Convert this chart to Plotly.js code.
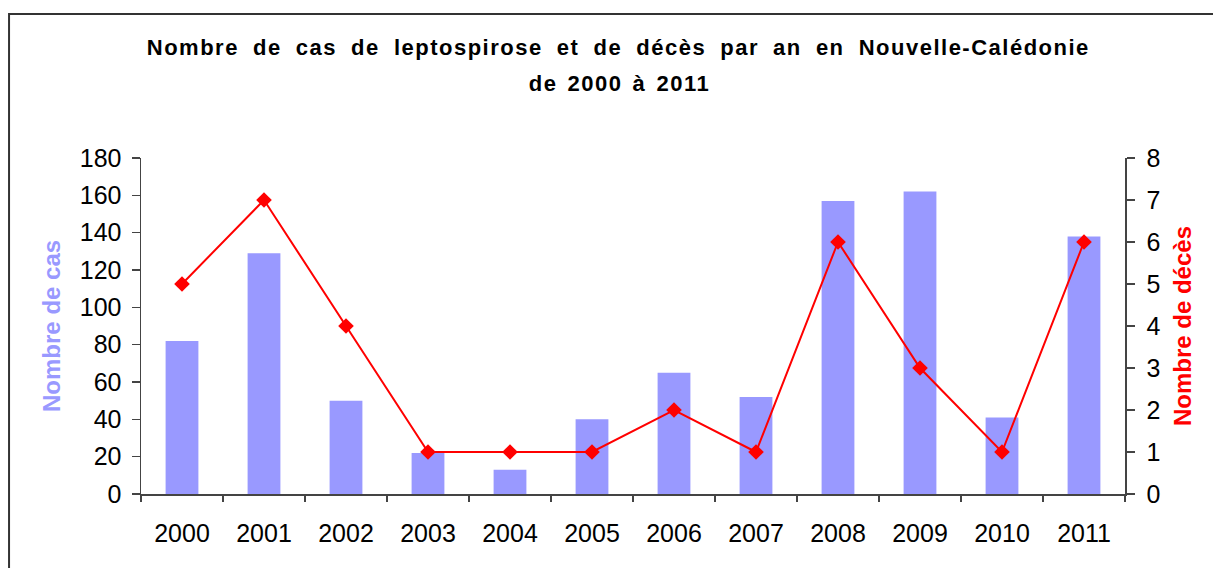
<!DOCTYPE html>
<html>
<head>
<meta charset="utf-8">
<script src="https://cdn.plot.ly/plotly-3.0.1.min.js"></script>
<style>
html,body{margin:0;padding:0;background:#fff;}
#chart{width:1213px;height:568px;}
#chart g.annotation[data-index="0"] text{letter-spacing:1.5px;word-spacing:6.5px;}
#chart g.annotation[data-index="1"] text{letter-spacing:1.5px;word-spacing:2.5px;}
</style>
</head>
<body>
<div id="chart"></div>
<script>
const years = ["2000","2001","2002","2003","2004","2005","2006","2007","2008","2009","2010","2011"];
const cases = [82, 129, 50, 22, 13, 40, 65, 52, 157, 162, 41, 138];
const deaths = [5, 7, 4, 1, 1, 1, 2, 1, 6, 3, 1, 6];
const titleLine1 = "Nombre de cas de leptospirose et de décès par an en Nouvelle-Calédonie";
const titleLine2 = "de 2000 à 2011";
const leftTitle = "Nombre de cas";
const rightTitle = "Nombre de décès";

const FONT = "Liberation Sans, Arial, sans-serif";
const AXC = "#444";
const xRange = [-0.5, years.length - 0.5];
const boundaries = years.map((_, i) => i - 0.5).concat([years.length - 0.5]);

const traces = [
  {type: "bar", x: years, y: cases, marker: {color: "#9999FF"}, xaxis: "x", yaxis: "y", hoverinfo: "y"},
  {type: "scatter", mode: "lines+markers", x: years, y: deaths, xaxis: "x", yaxis: "y2",
   line: {color: "#FF0000", width: 2}, marker: {symbol: "diamond", size: 12, color: "#FF0000"}}
];

const tickFont = {family: FONT, size: 25, color: "#000"};

const layout = {
  width: 1213, height: 568,
  margin: {l: 141, r: 88, t: 158, b: 74, pad: 0},
  paper_bgcolor: "#fff", plot_bgcolor: "#fff",
  showlegend: false,
  bargap: 0.6,
  xaxis: {type: "category", range: xRange, tickson: "boundaries", ticks: "outside", ticklen: 6, tickcolor: AXC, tickwidth: 1.5,
          showline: true, linecolor: AXC, linewidth: 1.5, showgrid: false, zeroline: false,
          tickfont: tickFont, ticklabelstandoff: 16, fixedrange: true},
  xaxis2: {overlaying: "x", anchor: "y", range: xRange, tickmode: "array", tickvals: boundaries,
           ticks: "inside", ticklen: 7, tickcolor: AXC, tickwidth: 1.5, showticklabels: false,
           showline: false, showgrid: false, zeroline: false},
  yaxis: {range: [0, 180], dtick: 20, ticks: "outside", ticklen: 8, tickcolor: AXC, tickwidth: 1.5,
          showline: true, linecolor: AXC, linewidth: 1.5, showgrid: false, zeroline: false,
          tickfont: tickFont, ticklabelstandoff: 5},
  yaxis3: {overlaying: "y", anchor: "x", side: "left", range: [0, 180], dtick: 20, ticks: "inside", ticklen: 8,
           tickcolor: AXC, tickwidth: 1.5, showticklabels: false, showline: false, showgrid: false, zeroline: false},
  yaxis2: {overlaying: "y", anchor: "x", side: "right", range: [0, 8], dtick: 1, ticks: "outside", ticklen: 8,
           tickcolor: AXC, tickwidth: 1.5, showline: true, linecolor: AXC, linewidth: 1.5, showgrid: false,
           zeroline: false, tickfont: tickFont, ticklabelstandoff: 7},
  yaxis4: {overlaying: "y", anchor: "x", side: "right", range: [0, 8], dtick: 1, ticks: "inside", ticklen: 8,
           tickcolor: AXC, tickwidth: 1.5, showticklabels: false, showline: false, showgrid: false, zeroline: false},
  annotations: [
    {text: "<b>" + titleLine1 + "</b>", xref: "paper", yref: "paper", x: (618.5 - 141) / 984, y: 1.3274,
     xanchor: "center", yanchor: "middle", showarrow: false, font: {family: FONT, size: 22, color: "#000"}},
    {text: "<b>" + titleLine2 + "</b>", xref: "paper", yref: "paper", x: (619 - 141) / 984, y: 1.2232,
     xanchor: "center", yanchor: "middle", showarrow: false, font: {family: FONT, size: 22, color: "#000"}},
    {text: "<b>" + leftTitle + "</b>", xref: "paper", yref: "paper", x: -0.0915, y: 0.5, textangle: -90,
     xanchor: "center", yanchor: "middle", showarrow: false, font: {family: FONT, size: 24, color: "#9999FF"}},
    {text: "<b>" + rightTitle + "</b>", xref: "paper", yref: "paper", x: 1.058, y: 0.5, textangle: -90,
     xanchor: "center", yanchor: "middle", showarrow: false, font: {family: FONT, size: 24, color: "#FF0000"}}
  ],
  shapes: [
    {type: "rect", xref: "paper", yref: "paper", x0: -0.1341, x1: 1.1, y0: -0.25, y1: 1.4286,
     line: {color: "#333", width: 2}, fillcolor: "rgba(0,0,0,0)", layer: "below"}
  ]
};

Plotly.newPlot("chart", traces, layout, {displayModeBar: false, staticPlot: true});
</script>
</body>
</html>
